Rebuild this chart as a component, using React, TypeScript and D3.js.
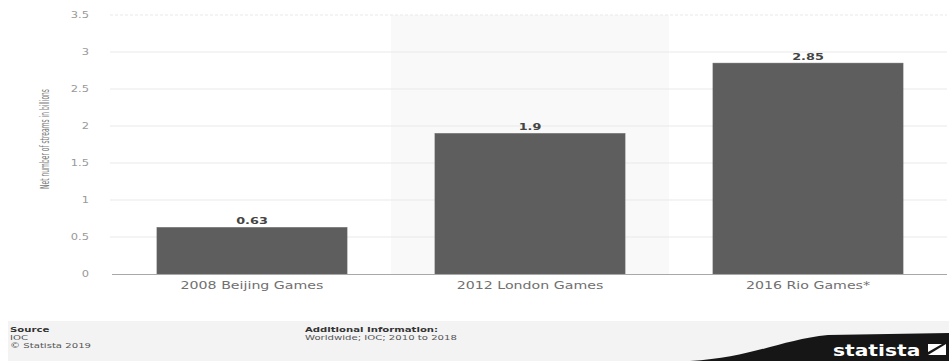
import React from "react";
import * as d3 from "d3";

const categories = ["2008 Beijing Games", "2012 London Games", "2016 Rio Games*"];
const values = [0.63, 1.9, 2.85];
const valueLabels = ["0.63", "1.9", "2.85"];
const yTicks = [0, 0.5, 1, 1.5, 2, 2.5, 3, 3.5];
const yTickLabels = ["0", "0.5", "1", "1.5", "2", "2.5", "3", "3.5"];
const highlighted = "2012 London Games";
const yTitle = "Net number of streams in billions";
const sourceLines = ["IOC", "\u00A9 Statista 2019"];
const infoLines = ["Worldwide; IOC; 2010 to 2018"];

const W = 949;
const H = 361;
const SX = 1.35; // horizontal stretch of the reference text
const FONT = "'DejaVu Sans', sans-serif";

export default function App() {
  const x = d3
    .scaleBand<string>()
    .domain(categories)
    .range([113, 947])
    .paddingInner(0.316)
    .paddingOuter(0.158);
  const y = d3.scaleLinear().domain([0, 3.5]).range([274, 15]);
  const step = x.step();
  const pad = step * x.paddingInner();

  const hx = (x(highlighted) ?? 0) - pad / 2;

  const logoPath = "M 690 361 C 750 358, 780 340, 828 335 L 949 333 L 949 361 Z";

  return (
    <svg
      width={W}
      height={H}
      style={{ position: "absolute", left: 0, top: 0, background: "#fff" }}
      fontFamily={FONT}
    >
      <rect x={0} y={0} width={W} height={H} fill="#fff" />
      {/* highlighted band */}
      <rect x={hx} y={y(3.5)} width={step} height={y(0) - y(3.5)} fill="#f9f9f9" />
      {/* grid */}
      {yTicks.map((t, i) =>
        i === 0 ? null : (
          <line
            key={"g" + t}
            x1={110}
            x2={947}
            y1={y(t)}
            y2={y(t)}
            stroke="#e9e9e9"
            strokeWidth={1}
            strokeDasharray={t === 3.5 ? "3,2" : undefined}
          />
        )
      )}
      {/* tick labels */}
      {yTicks.map((t, i) => (
        <text
          key={"t" + t}
          transform={`translate(89,${y(t) + 3}) scale(${SX},1)`}
          textAnchor="end"
          fontSize={8.5}
          fill="#999"
        >
          {yTickLabels[i]}
        </text>
      ))}
      {/* y title */}
      <text
        transform={`translate(49,139) rotate(-90)`}
        textAnchor="middle"
        fontSize={11.5}
        fill="#7a7a7a"
        fontFamily="'Liberation Sans Narrow', 'DejaVu Sans Condensed', 'Liberation Sans', sans-serif"
        textLength={100}
        lengthAdjust="spacingAndGlyphs"
      >
        {yTitle}
      </text>
      {/* bars */}
      {categories.map((c, i) => (
        <rect
          key={"b" + c}
          x={x(c)}
          y={y(values[i])}
          width={x.bandwidth()}
          height={y(0) - y(values[i])}
          fill="#5e5e5e"
          stroke="#6a6a6a"
          strokeWidth={0.5}
        />
      ))}
      {/* baseline */}
      <line x1={112} x2={947} y1={y(0) + 0.5} y2={y(0) + 0.5} stroke="#a8a8a8" strokeWidth={1} />
      {/* value labels */}
      {categories.map((c, i) => (
        <text
          key={"v" + c}
          transform={`translate(${(x(c) ?? 0) + x.bandwidth() / 2},${y(values[i]) - 3}) scale(${SX},1)`}
          textAnchor="middle"
          fontSize={9.5}
          fontWeight="bold"
          fill="#444"
        >
          {valueLabels[i]}
        </text>
      ))}
      {/* category labels */}
      {categories.map((c) => (
        <text
          key={"c" + c}
          transform={`translate(${(x(c) ?? 0) + x.bandwidth() / 2},289) scale(${SX},1)`}
          textAnchor="middle"
          fontSize={10.5}
          fill="#707070"
        >
          {c}
        </text>
      ))}
      {/* footer */}
      <rect x={8} y={321} width={W - 8} height={H - 321} fill="#f3f3f3" />
      <text transform={`translate(10,332) scale(${SX},1)`} fontSize={7.5} fontWeight="bold" fill="#333">
        Source
      </text>
      {sourceLines.map((s, i) => (
        <text key={"s" + i} transform={`translate(10,${339.5 + i * 8}) scale(${SX},1)`} fontSize={7.5} fill="#555">
          {s}
        </text>
      ))}
      <text transform={`translate(305,332) scale(${SX},1)`} fontSize={7.5} fontWeight="bold" fill="#333">
        Additional Information:
      </text>
      {infoLines.map((s, i) => (
        <text key={"a" + i} transform={`translate(305,${339.5 + i * 8}) scale(${SX},1)`} fontSize={7.5} fill="#555">
          {s}
        </text>
      ))}
      {/* logo */}
      <path d={logoPath} fill="#161616" />
      <text transform={`translate(833,356) scale(${SX},1)`} fontSize={15} fontWeight="bold" fill="#fff">
        statista
      </text>
      <path d="M 928 355 L 946 355 L 946 344 Z" fill="#fff" />
      <path d="M 928 344 L 942 344 L 928 352 Z" fill="#fff" />
    </svg>
  );
}
